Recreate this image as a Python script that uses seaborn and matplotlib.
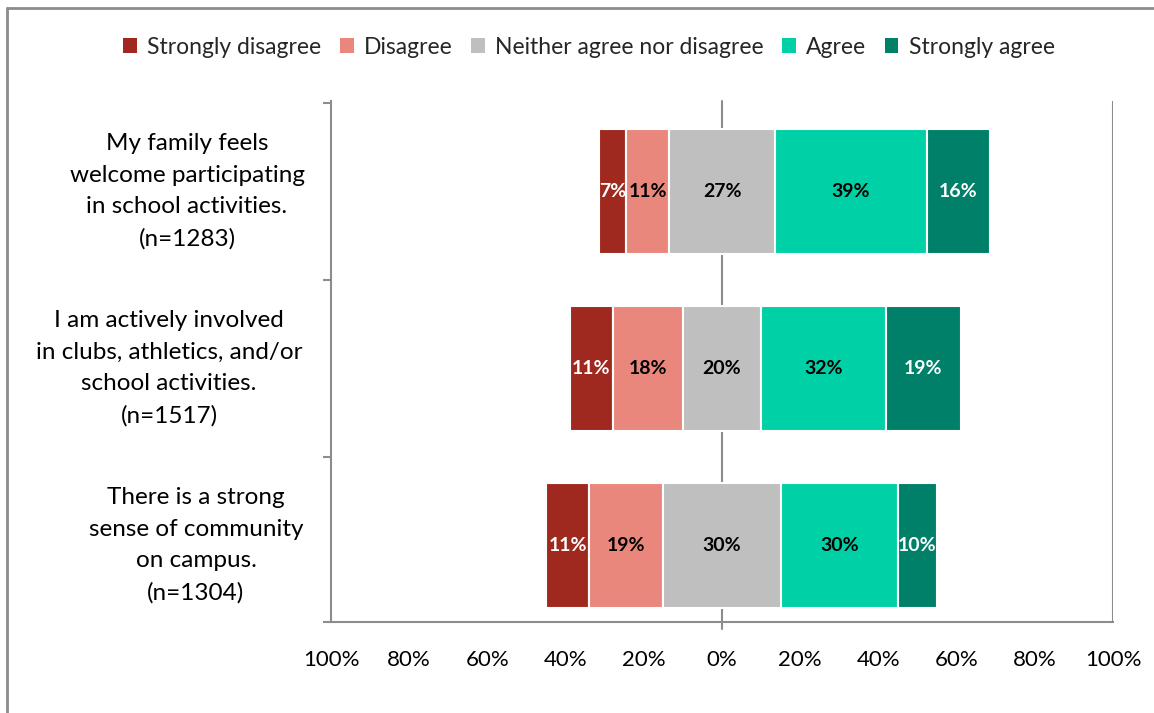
import matplotlib
matplotlib.use("Agg")
import matplotlib.pyplot as plt
from matplotlib.patches import Patch
from matplotlib.lines import Line2D
import seaborn as sns
import numpy as np

categories = [
    "My family feels\nwelcome participating\nin school activities.\n(n=1283)",
    "I am actively involved\nin clubs, athletics, and/or\nschool activities.\n(n=1517)",
    "There is a strong\nsense of community\non campus.\n(n=1304)",
]
strongly_disagree = [7, 11, 11]
disagree = [11, 18, 19]
neutral = [27, 20, 30]
agree = [39, 32, 30]
strongly_agree = [16, 19, 10]
series_names = ["Strongly disagree", "Disagree", "Neither agree nor disagree", "Agree", "Strongly agree"]
colors = ["#A0291F", "#E9877C", "#BFBFBF", "#00D0A6", "#008069"]
label_colors = ["white", "black", "black", "black", "white"]
xticks = [-100, -80, -60, -40, -20, 0, 20, 40, 60, 80, 100]
xtick_labels = ["100%", "80%", "60%", "40%", "20%", "0%", "20%", "40%", "60%", "80%", "100%"]

sns.set_theme(style="white")
plt.rcParams["font.family"] = ["Lato", "DejaVu Sans"]

fig = plt.figure(figsize=(11.54, 7.13), dpi=100)
W, H = 1154, 713
x0, x1, ytop, ybot = 331, 1113, 101, 622
ax = fig.add_axes([x0 / W, 1 - ybot / H, (x1 - x0) / W, (ybot - ytop) / H])

sd = np.array(strongly_disagree, float)
d = np.array(disagree, float)
n = np.array(neutral, float)
a = np.array(agree, float)
sa = np.array(strongly_agree, float)

lefts = [-(n / 2 + d + sd), -(n / 2 + d), -n / 2, n / 2, n / 2 + a]
widths = [sd, d, n, a, sa]
ypos = np.arange(len(categories))
gray = "#8C8C8C"

# zero line behind bars
ax.plot([0, 0], [-0.511, 2.47], color=gray, lw=1.5, zorder=0.5, clip_on=False)

for w, l, c, lc in zip(widths, lefts, colors, label_colors):
    sns.barplot(x=list(w), y=[str(i) for i in ypos], left=list(l), color=c, orient="h",
                ax=ax, width=0.706, edgecolor="white", linewidth=1.5, saturation=1, zorder=2)
    cont = ax.containers[-1]
    ax.bar_label(cont, labels=[f"{int(v)}%" for v in w], label_type="center",
                 color=lc, fontsize=14, fontweight="bold", zorder=3)

ax.set_xlim(-100, 100)
ax.set_ylim(2.432, -0.511)
ax.set_xticks(xticks)
ax.set_xticklabels(xtick_labels, fontsize=16, color="black")
ax.tick_params(axis="x", length=0, pad=20)
ax.set_yticks([-0.5, 0.5, 1.5, 2.432])
ax.set_yticklabels([])
ax.tick_params(axis="y", length=6, width=1.5, color=gray, direction="out", left=True)
ax.set_xlabel("")
ax.set_ylabel("")

for s in ["top", "right"]:
    ax.spines[s].set_visible(False)
for s in ["left", "bottom"]:
    ax.spines[s].set_color(gray)
    ax.spines[s].set_linewidth(1.5)
ax.axvline(100, color=gray, lw=1.5, zorder=0.5)

centers_px = [187, 169, 196]
for i, (txt, cx) in enumerate(zip(categories, centers_px)):
    ax.text((cx - x0) / (x1 - x0), i, txt, transform=ax.get_yaxis_transform(),
            ha="center", va="center", multialignment="center", fontsize=17.5,
            linespacing=1.63, color="black")

handles = [Patch(facecolor=c, edgecolor="none") for c in colors]
fig.legend(handles, series_names, loc="center", bbox_to_anchor=(589 / W, 1 - 47 / H),
           ncol=5, frameon=False, fontsize=16.5, handlelength=0.6, handleheight=0.6,
           handletextpad=0.45, columnspacing=0.8)

# outer chart border
fig.add_artist(Line2D([7 / W, 1], [1 - 8 / H, 1 - 8 / H], color=gray, lw=2, transform=fig.transFigure))
fig.add_artist(Line2D([7 / W, 7 / W], [0, 1 - 8 / H], color=gray, lw=2, transform=fig.transFigure))

fig.savefig("out.png", dpi=100, facecolor="white")
